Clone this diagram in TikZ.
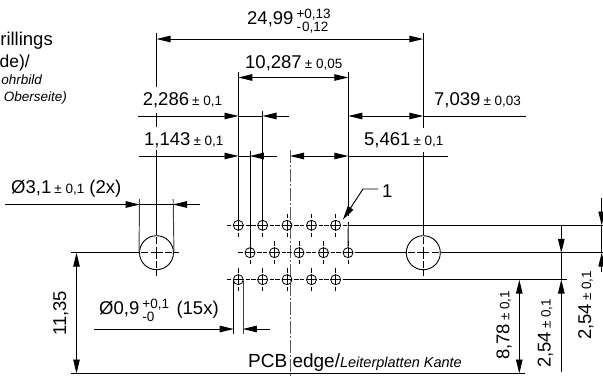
\documentclass[tikz,border=0pt]{standalone}
\usepackage{fontspec}
\setmainfont{Liberation Sans}
\usetikzlibrary{arrows.meta}

\newcommand{\tolsize}{\fontsize{13.5}{14}\selectfont}
\newcommand{\tolpair}[2]{{\tolsize\raisebox{6.5pt}{\rlap{#1}}\raisebox{-6.5pt}{#2}}}

\tikzset{
    line/.style={line width=0.95pt},
    extline/.style={line width=0.95pt, black!75},
    dimarrow/.style={line width=0.95pt, -{Triangle[length=14pt, width=6.5pt]}, shorten >=-0.2pt},
    dimboth/.style={line width=0.95pt, {Triangle[length=14pt, width=6.5pt]}-{Triangle[length=14pt, width=6.5pt]}},
    centerline/.style={line width=0.8pt, black!65, dash pattern=on 13pt off 2pt on 2pt off 2pt},
    hole/.style={circle, draw, line width=0.8pt, inner sep=0pt, minimum size=10pt},
    bighole/.style={circle, draw, line width=0.9pt, inner sep=0pt, minimum size=34pt},
    dim/.style={inner sep=0pt, anchor=base west, font=\fontsize{18.5}{20}\selectfont},
    note/.style={inner sep=0pt, anchor=base east}
}

\begin{document}
\begin{tikzpicture}[x=1pt, y=-1pt]
    \useasboundingbox (0,0) rectangle (603,376);

    % board centre and edge
    \coordinate (axis_top) at (290,150);
    \coordinate (axis_bot) at (290,376);
    \draw[centerline] (axis_top) -- (axis_bot);

    % pin holes
    \foreach \name/\x/\y in {a1/238.3/225.3, a2/262.7/225.3, a3/287/225.3, a4/311.5/225.3, a5/335.7/225.3,
                             b1/250/252.7, b2/274.5/252.7, b3/299/252.7, b4/323.5/252.7, b5/348/252.7,
                             c1/238.3/279.7, c2/262.7/279.7, c3/287/279.7, c4/311.5/279.7, c5/335.7/279.7} {
        \node[hole] (\name) at (\x,\y) {};
        \draw[line width=0.7pt] (\name.west) -- (\name.east);
        \draw[line width=0.7pt] (\name.north) -- (\name.south);
        \draw[line width=0.7pt] (\name.west) ++(-1.8,0) -- ++(-4.5,0);
        \draw[line width=0.7pt] (\name.east) ++(1.8,0) -- ++(4.5,0);
        \draw[line width=0.7pt] (\name.north) ++(0,-1.8) -- ++(0,-4.5);
        \draw[line width=0.7pt] (\name.south) ++(0,1.8) -- ++(0,4.5);
    }

    % mounting holes
    \foreach \name/\x in {ml/156.5, mr/423.3} {
        \node[bighole] (\name) at (\x,252.7) {};
        \draw[line width=0.7pt] (\name) ++(-6,0) -- ++(12,0);
        \draw[line width=0.7pt] (\name) ++(0,-6) -- ++(0,12);
        \draw[line width=0.7pt] (\name.west) ++(2,0) -- ++(7,0);
        \draw[line width=0.7pt] (\name.east) ++(-2,0) -- ++(-7,0);
        \draw[line width=0.7pt] (\name.north) ++(0,2) -- ++(0,7);
        \draw[line width=0.7pt] (\name.south) ++(0,-2) -- ++(0,-7);
        \draw[line width=0.7pt] (\name.east) -- ++(5.5,0);
        \draw[line width=0.7pt] (\name.south) -- ++(0,5.5);
    }
    \draw[line width=0.7pt] (mr.west) -- ++(-5.5,0);

    % extension lines
    \coordinate (l_top) at (156.5,33);
    \coordinate (l_a) at (156.5,87);
    \coordinate (l_b) at (156.5,113);
    \coordinate (l_c) at (156.5,127);
    \coordinate (l_d) at (156.5,150);
    \draw[line] (l_top) -- (l_a);
    \draw[line] (l_b) -- (l_c);
    \draw[line] (l_d) -- (ml.north);
    \coordinate (r_top) at (423.3,33);
    \coordinate (r_a) at (423.3,128);
    \coordinate (r_b) at (423.3,152);
    \draw[line] (r_top) -- (r_a);
    \draw[line] (r_b) -- (mr.north);
    \coordinate (a1_top) at (238.3,72);
    \coordinate (a5_top) at (348.3,72);
    \coordinate (a5_low) at (348.3,216);
    \coordinate (b5_high) at (348.3,222);
    \coordinate (a2_top) at (262.7,111);
    \coordinate (b1_top) at (250,151);
    \draw[line] (a1_top) -- (a1.north);
    \draw[line] (a2_top) -- (a2.north);
    \draw[line] (b1_top) -- (b1.north);
    \draw[line] (a5_top) -- (a5_low);
    \draw[line] (b5_high) -- (b5.north);
    \coordinate (ml_wtop) at (139.5,199);
    \coordinate (ml_etop) at (173.2,199);
    \draw[extline] (ml_wtop) -- (ml.west);
    \draw[extline] (ml_etop) -- (ml.east);
    \coordinate (c1_w) at (233.5,281);
    \coordinate (c1_wlow) at (233.5,334);
    \coordinate (c1_e) at (243,281);
    \coordinate (c1_elow) at (243,334);
    \draw[line] (c1_w) -- (c1_wlow);
    \draw[extline] (c1_e) -- (c1_elow);

    % horizontal extension lines to the right
    \coordinate (row_a) at (348.3,225.3);
    \coordinate (row_a_end) at (603,225.3);
    \coordinate (row_b) at (358,252.7);
    \coordinate (row_b_mid) at (401,252.7);
    \coordinate (row_b_mid2) at (446,252.7);
    \coordinate (row_b_end) at (603,252.7);
    \coordinate (row_c) at (343,279.7);
    \coordinate (row_c_end) at (567,279.7);
    \draw[line] (row_a) -- (row_a_end);
    \draw[line] (row_b) -- (row_b_mid);
    \draw[line] (row_b_mid2) -- (row_b_end);
    \draw[line] (row_c) -- (row_c_end);
    \coordinate (ml_left) at (71,252.7);
    \coordinate (edge_left) at (71,373.5);
    \coordinate (edge_right) at (525,373.5);
    \draw[line] (ml_left) -- (ml.west);
    \draw[line] (edge_left) -- (edge_right);

    % dimensions
    \coordinate (d1_l) at (156.5,39);
    \coordinate (d1_r) at (423.3,39);
    \draw[dimboth] (d1_l) -- (d1_r);
    \coordinate (d2_l) at (238.3,77.5);
    \coordinate (d2_r) at (348.3,77.5);
    \draw[dimboth] (d2_l) -- (d2_r);

    \coordinate (d3_tail) at (138,116);
    \coordinate (d3_tip) at (238.3,116);
    \coordinate (d3_tail2) at (289,116);
    \coordinate (d3_tip2) at (262.7,116);
    \draw[dimarrow] (d3_tail) -- (d3_tip);
    \draw[dimarrow] (d3_tail2) -- (d3_tip2);
    \draw[line] (d3_tip) -- (d3_tip2);

    \coordinate (d4_tail) at (139,156);
    \coordinate (d4_tip) at (238.3,156);
    \coordinate (d4_tail2) at (277,156);
    \coordinate (d4_tip2) at (250,156);
    \draw[dimarrow] (d4_tail) -- (d4_tip);
    \draw[dimarrow] (d4_tail2) -- (d4_tip2);
    \draw[line] (d4_tip) -- (d4_tip2);

    \coordinate (d5_l) at (290,156);
    \coordinate (d5_r) at (348.3,156);
    \coordinate (d5_tail) at (448,156);
    \draw[dimboth] (d5_l) -- (d5_r);
    \draw[line] (d5_r) -- (d5_tail);

    \coordinate (d6_l) at (348.3,116);
    \coordinate (d6_r) at (423.3,116);
    \coordinate (d6_tail) at (526,116);
    \draw[dimboth] (d6_l) -- (d6_r);
    \draw[line] (d6_r) -- (d6_tail);

    \coordinate (d7_tail) at (5,204.5);
    \coordinate (d7_tip) at (139.5,204.5);
    \coordinate (d7_tail2) at (199.5,204.5);
    \coordinate (d7_tip2) at (173.2,204.5);
    \draw[dimarrow] (d7_tail) -- (d7_tip);
    \draw[dimarrow] (d7_tail2) -- (d7_tip2);
    \draw[line] (d7_tip) -- (d7_tip2);

    \coordinate (d8_t) at (76.5,252.7);
    \coordinate (d8_b) at (76.5,373.5);
    \draw[dimboth] (d8_t) -- (d8_b);

    \coordinate (d9_tail) at (94,329);
    \coordinate (d9_tip) at (233.5,329);
    \coordinate (d9_tail2) at (269.5,329);
    \coordinate (d9_tip2) at (243,329);
    \draw[dimarrow] (d9_tail) -- (d9_tip);
    \draw[dimarrow] (d9_tail2) -- (d9_tip2);

    \coordinate (d10_t) at (519.3,279.7);
    \coordinate (d10_b) at (519.3,373.5);
    \draw[dimboth] (d10_t) -- (d10_b);

    \coordinate (d11_top) at (561.3,225.3);
    \coordinate (d11_tip) at (561.3,252.7);
    \coordinate (d11_tip2) at (561.3,279.7);
    \coordinate (d11_tail) at (561.3,372);
    \draw[dimarrow] (d11_top) -- (d11_tip);
    \draw[dimarrow] (d11_tail) -- (d11_tip2);
    \draw[line] (d11_tip) -- (d11_tip2);

    \coordinate (d12_top) at (601.7,198);
    \coordinate (d12_tip) at (601.7,225.3);
    \coordinate (d12_tip2) at (601.7,252.7);
    \coordinate (d12_tail) at (601.7,272);
    \draw[dimarrow] (d12_top) -- (d12_tip);
    \draw[dimarrow] (d12_tail) -- (d12_tip2);
    \draw[line] (d12_tip) -- (d12_tip2);

    % labels
    \node[dim] (t_a) at (247,24.5) {24,99\,\tolpair{+0,13}{-\kern1pt 0,12}};
    \node[dim] (t_b) at (245,68) {10,287\,{\tolsize ± 0,05}};
    \node[dim] (t_c) at (142.6,105.5) {2,286\,{\tolsize ± 0,1}};
    \node[dim] (t_d) at (144,145) {1,143\,{\tolsize ± 0,1}};
    \node[dim] (t_e) at (434,105.5) {7,039\,{\tolsize ± 0,03}};
    \node[dim] (t_f) at (364,145.5) {5,461\,{\tolsize ± 0,1}};
    \node[dim] (t_g) at (11,193) {Ø3,1\,{\tolsize ± 0,1} (2x)};
    \node[dim] (t_h) at (99,314.5) {Ø0,9\,\tolpair{+0,1}{-0}\hspace{17pt} (15x)};
    \node[dim, font=\fontsize{19}{20}\selectfont] (t_i) at (248,367) {PCB edge/{\fontsize{14.5}{15}\selectfont\itshape Leiterplatten Kante}};
    \node[dim, rotate=90] (t_j) at (66,336) {11,35};
    \node[dim, rotate=90] (t_k) at (509.3,360) {8,78\,{\tolsize ± 0,1}};
    \node[dim, rotate=90] (t_l) at (550.5,368) {2,54\,{\tolsize ± 0,1}};
    \node[dim, rotate=90] (t_m) at (591,340) {2,54\,{\tolsize ± 0,1}};

    % leader
    \node[dim] (t_n) at (382,197) {1};
    \coordinate (lead_a) at (378,189);
    \coordinate (lead_b) at (363,189);
    \coordinate (lead_tip) at (343,219.5);
    \draw[dimarrow] (lead_a) -- (lead_b) -- (lead_tip);

    % drilling note
    \node[note, font=\fontsize{18.5}{20}\selectfont] (n_a) at (53,45.5) {rillings};
    \node[note, font=\fontsize{17.5}{20}\selectfont] (n_b) at (30,67) {de)/};
    \node[note, font=\fontsize{13.5}{15}\selectfont\itshape] (n_c) at (42,84.5) {ohrbild};
    \node[note, font=\fontsize{13.5}{15}\selectfont\itshape] (n_d) at (67,101) {Oberseite)};
\end{tikzpicture}
\end{document}
